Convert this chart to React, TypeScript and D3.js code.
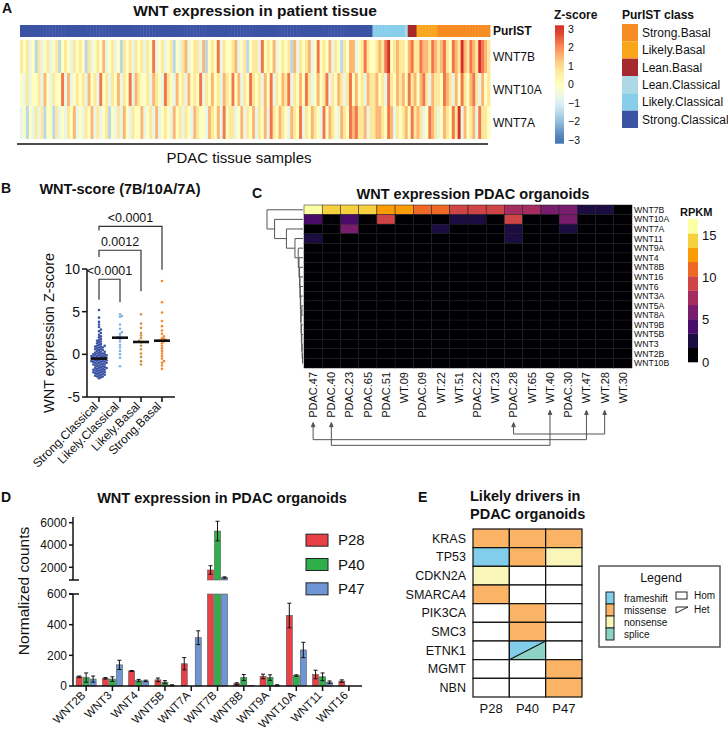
import * as d3 from "d3";

const FONT = "'Liberation Sans', Arial, Helvetica, sans-serif";

// ---------- A: WNT z-scores in patient tissue ----------
const PURIST_CLASSES = ["Strong.Basal", "Likely.Basal", "Lean.Basal", "Lean.Classical", "Likely.Classical", "Strong.Classical"];
const PURIST_COLORS = ["#F68B21", "#F9A61D", "#A5292D", "#ADD8E6", "#87CEEB", "#3A53A4"];
// column order of the heatmap and number of samples per class
const SAMPLE_CLASS_ORDER = ["Strong.Classical", "Likely.Classical", "Lean.Classical", "Lean.Basal", "Likely.Basal", "Strong.Basal"];
const SAMPLE_CLASS_COUNTS = [120, 11, 1, 3, 7, 18];
const TISSUE_GENES = ["WNT7B", "WNT10A", "WNT7A"];
// one digit per sample, z = (digit - 4) * 0.75
const WNT7B_Z =
  "5453425345" + "3452454354" + "5425345463" + "4534254535" + "4535473453" + "4524356345" +
  "5362454735" + "4456345245" + "5374546345" + "4526354563" + "4745463542" + "5466345754" +
  "4565784565" + "54" + "675" + "5766576" + "5675476586" + "57658765";
const WNT10A_Z =
  "4353445364" + "3544736345" + "4536453745" + "3546354736" + "5445365437" + "5436453645" +
  "4735464536" + "5474635475" + "4536473546" + "5735464753" + "4645735465" + "3574645365" +
  "5645375465" + "64" + "756" + "4675365" + "5476536475" + "46753645";
const WNT7A_Z =
  "3424353524" + "4253435463" + "4354635345" + "2435364354" + "4634536345" + "4364535436" +
  "5443654637" + "4553463546" + "3546375465" + "4365473546" + "5437465436" + "5476755635" +
  "5665476354" + "56" + "475" + "6534765" + "3465475836" + "45637554";
const Z_TICKS = [3, 2, 1, 0, -1, -2, -3];
const RDYLBU = ["#4575B4", "#91BFDB", "#E0F3F8", "#FFFFBF", "#FEE090", "#FC8D59", "#D73027"];

// ---------- B: WNT-score per PurIST class ----------
const B_GROUPS = ["Strong.Classical", "Likely.Classical", "Likely.Basal", "Strong.Basal"];
const B_COLORS = ["#3A53A4", "#7FB2E5", "#D8913F", "#F58A2A"];
const SCORE_STRONG_CLASSICAL = [
  5.2, 4.3, 3.8, 3.5, 3.2, 2.9, 2.7, 2.5, 2.3, 2.1, 2.0, 1.8, 1.7, 1.6, 1.5, 1.4, 1.3, 1.2, 1.1, 1.0,
  1.0, 0.9, 0.9, 0.8, 0.8, 0.7, 0.6, 0.6, 0.5, 0.5, 0.4, 0.3, 0.3, 0.2, 0.2, 0.1, 0.1, 0.0, 0.0, 0.0,
  -0.1, -0.1, -0.1, -0.2, -0.2, -0.2, -0.3, -0.3, -0.3, -0.4, -0.4, -0.4, -0.5, -0.5, -0.5,
  -0.6, -0.6, -0.6, -0.7, -0.7, -0.7, -0.8, -0.8, -0.8, -0.9, -0.9, -0.9, -1.0, -1.0, -1.0,
  -1.1, -1.1, -1.2, -1.2, -1.2, -1.3, -1.3, -1.4, -1.4, -1.5, -1.5, -1.6, -1.6, -1.6, -1.7, -1.7,
  -1.8, -1.8, -1.8, -1.9, -1.9, -2.0, -2.0, -2.1, -2.1, -2.1, -2.2, -2.2, -2.3, -2.3, -2.4, -2.4,
  -2.5, -2.5, -2.6, -2.6, -2.7, -2.8,
];
const SCORE_LIKELY_CLASSICAL = [4.7, 4.5, 4.4, 3.5, 3.0, 2.6, 2.4, 2.1, 2.0, 1.9, 1.8, 1.5, 1.1, 0.8, 0.4, 0.0, -0.4, -1.4];
const SCORE_LIKELY_BASAL = [4.7, 3.6, 3.1, 2.5, 2.2, 1.9, 1.6, 1.45, 1.4, 1.0, 0.6, 0.1, -0.3, -0.8, -1.2];
const SCORE_STRONG_BASAL = [8.6, 6.1, 4.9, 3.9, 3.3, 2.8, 2.4, 2.1, 1.9, 1.8, 1.7, 1.65, 1.6, 1.5, 1.3, 1.0, 0.7, 0.4, 0.1, -0.2, -0.5, -0.8, -1.0, -1.3, -1.7];
const B_Y_TICKS = [-5, 0, 5, 10];
// comparisons against Strong.Classical: label, bracket top and leg ends in score units
const B_TESTS = [
  { b: "Likely.Classical", label: "<0.0001", top: 8.8, left: 6.4, right: 6.1 },
  { b: "Likely.Basal", label: "0.0012", top: 12.2, left: 11.4, right: 7.4 },
  { b: "Strong.Basal", label: "<0.0001", top: 15.0, left: 14.5, right: 9.9 },
];

// ---------- C: organoid RPKM heatmap ----------
const C_GENES = ["WNT7B", "WNT10A", "WNT7A", "WNT11", "WNT9A", "WNT4", "WNT8B", "WNT16", "WNT6", "WNT3A", "WNT5A", "WNT8A", "WNT9B", "WNT5B", "WNT3", "WNT2B", "WNT10B"];
const C_SAMPLES = ["PDAC.47", "PDAC.40", "PDAC.23", "PDAC.65", "PDAC.51", "WT.09", "PDAC.09", "WT.22", "WT.51", "PDAC.22", "WT.23", "PDAC.28", "WT.65", "WT.40", "PDAC.30", "WT.47", "WT.28", "WT.30"];
const RPKM_WNT7B = [16.2, 14.4, 14.4, 14.4, 12.6, 12.6, 11.0, 11.0, 9.3, 9.3, 9.3, 7.7, 7.7, 6.4, 6.2, 2.5, 2.5, 0.6];
const RPKM_WNT10A = [4.6, 0, 4.6, 0, 9.5, 0, 0, 0, 2.6, 2.6, 0, 9.5, 0, 0, 6.6, 0, 0, 0];
const RPKM_WNT7A = [0, 0, 6.5, 0, 0, 0, 0, 2.6, 0, 0, 0, 2.6, 0, 0, 2.6, 0, 0, 0];
const RPKM_WNT11 = [2.6, 0, 0, 0, 0, 0, 0, 0, 0, 0, 0, 2.6, 0, 0, 0, 0, 0, 0];
const RPKM_OTHER = C_SAMPLES.map(() => 0);
const RPKM_ROWS = [RPKM_WNT7B, RPKM_WNT10A, RPKM_WNT7A, RPKM_WNT11];
const RPKM_MAX = 17;
const RPKM_TICKS = [15, 10, 5, 0];
// row dendrogram: [merge height, left, right]
const ROW_TREE: any = [38, "WNT7B",
  [30, "WNT10A",
    [17.5, "WNT7A",
      [8.5, "WNT11",
        [5, "WNT9A",
          [4.2, "WNT4",
            [3.6, "WNT8B",
              [3.2, "WNT16",
                [2.8, "WNT6",
                  [2.4, "WNT3A",
                    [2.0, [1.2, "WNT5A", "WNT8A"],
                      [1.7, "WNT9B", [1.3, "WNT5B", [0.9, "WNT3", [0.5, "WNT2B", "WNT10B"]]]]]]]]]]]]]]];
// tumour organoid -> matched wild-type organoid
const MATCHED_PAIRS = [["PDAC.28", "WT.28"], ["PDAC.47", "WT.47"], ["PDAC.40", "WT.40"]];

// ---------- D: normalized counts ----------
const D_GENES = ["WNT2B", "WNT3", "WNT4", "WNT5B", "WNT7A", "WNT7B", "WNT8B", "WNT9A", "WNT10A", "WNT11", "WNT16"];
const ORGANOIDS = ["P28", "P40", "P47"];
const ORG_COLORS = ["#E94045", "#2EAF4A", "#6F96D4"];
const P28_MEAN = [60, 50, 98, 40, 145, 1760, 15, 62, 460, 75, 32];
const P28_SD = [5, 5, 3, 12, 40, 380, 6, 15, 80, 28, 8];
const P40_MEAN = [55, 45, 35, 25, 0, 5250, 55, 55, 68, 60, 0];
const P40_SD = [30, 15, 8, 10, 0, 880, 20, 18, 5, 25, 0];
const P47_MEAN = [45, 138, 33, 5, 315, 1080, 3, 5, 235, 25, 0];
const P47_SD = [20, 30, 5, 3, 45, 60, 0, 3, 50, 8, 0];
const D_LOW_TICKS = [0, 200, 400, 600];
const D_HIGH_TICKS = [2000, 4000, 6000];

// ---------- E: driver mutations ----------
const E_GENES = ["KRAS", "TP53", "CDKN2A", "SMARCA4", "PIK3CA", "SMC3", "ETNK1", "MGMT", "NBN"];
const E_SAMPLES = ["P28", "P40", "P47"];
const MUT_TYPES = ["frameshift", "missense", "nonsense", "splice"];
const MUT_COLORS = ["#82CDEA", "#FBB466", "#FAF6B9", "#8CD3C5"];
// gene, sample, type (a second type marks a heterozygous cell)
const E_CALLS = [
  ["KRAS", "P28", "missense"], ["KRAS", "P40", "missense"], ["KRAS", "P47", "missense"],
  ["TP53", "P28", "frameshift"], ["TP53", "P40", "missense"], ["TP53", "P47", "nonsense"],
  ["CDKN2A", "P28", "nonsense"],
  ["SMARCA4", "P28", "missense"],
  ["PIK3CA", "P40", "missense"],
  ["SMC3", "P40", "missense"],
  ["ETNK1", "P40", "frameshift", "splice"],
  ["MGMT", "P47", "missense"],
  ["NBN", "P47", "missense"],
];

function PanelA() {
  const sampleClass = SAMPLE_CLASS_ORDER.flatMap((c, i) => Array.from({ length: SAMPLE_CLASS_COUNTS[i] }, () => c));
  const n = sampleClass.length;
  const x = d3.scaleBand<number>().domain(d3.range(n)).range([20, 490]);
  const y = d3.scaleBand<string>().domain(TISSUE_GENES).range([40, 139]);
  const w = x.bandwidth();
  const classColor = d3.scaleOrdinal<string, string>().domain(PURIST_CLASSES).range(PURIST_COLORS);
  const zColor = d3.scaleLinear<string>().domain([-3, -2, -1, 0, 1, 2, 3]).range(RDYLBU).clamp(true);
  const zy = d3.scaleLinear().domain([-3, 3]).range([140, 29]);
  const legendY = d3.scaleBand<string>().domain(PURIST_CLASSES).range([24, 128]);
  const rows = [WNT7B_Z, WNT10A_Z, WNT7A_Z];
  const gradStops = d3.range(-3.2, 3.21, 0.4);

  return (
    <g>
      <text x={2} y={13} fontSize={14} fontWeight="bold">A</text>
      <text x={255} y={16} textAnchor="middle" fontSize={15.5} fontWeight="bold">WNT expression in patient tissue</text>
      {sampleClass.map((c, i) => (
        <rect key={"c" + i} x={x(i)} y={25} width={w + 0.4} height={12} fill={classColor(c)} />
      ))}
      {rows.map((s, r) =>
        sampleClass.map((_, i) => (
          <rect key={r + "-" + i} x={x(i)} y={y(TISSUE_GENES[r])} width={w + 0.4} height={y.bandwidth()}
            fill={zColor((+(s[i] ?? "4") - 4) * 0.75)} />
        ))
      )}
      <text x={493} y={35} fontSize={12} fontWeight="bold">PurIST</text>
      {TISSUE_GENES.map((g) => (
        <text key={g} x={493} y={(y(g) ?? 0) + y.bandwidth() / 2} dy="0.35em" fontSize={12}>{g}</text>
      ))}
      <line x1={17} x2={488} y1={144} y2={144} stroke="#111" strokeWidth={1.5} />
      <text x={239} y={163} textAnchor="middle" fontSize={15}>PDAC tissue samples</text>

      {/* z-score colour bar */}
      <defs>
        <linearGradient id="zgrad" x1="0" y1="1" x2="0" y2="0">
          {gradStops.map((v, i) => (
            <stop key={i} offset={(v + 3.2) / 6.4} stopColor={zColor(v)} />
          ))}
        </linearGradient>
      </defs>
      <text x={554} y={19} fontSize={12} fontWeight="bold">Z-score</text>
      <rect x={555} y={zy(3.2)} width={9} height={zy(-3.2) - zy(3.2)} fill="url(#zgrad)" />
      {Z_TICKS.map((t) => (
        <text key={t} x={568} y={zy(t)} dy="0.35em" fontSize={10.5}>{d3.format("d")(t)}</text>
      ))}

      {/* PurIST legend */}
      <text x={622} y={19} fontSize={12} fontWeight="bold">PurIST class</text>
      {PURIST_CLASSES.map((c) => (
        <g key={c}>
          <rect x={622} y={legendY(c)} width={16} height={legendY.bandwidth()} fill={classColor(c)} />
          <text x={642} y={(legendY(c) ?? 0) + legendY.bandwidth() / 2} dy="0.35em" fontSize={12}>{c}</text>
        </g>
      ))}
    </g>
  );
}

// simple beeswarm: offsets along x so that dots overlap only a little
function swarm(values: number[], y: (v: number) => number, gap: number) {
  const placed: { x: number; y: number }[] = [];
  return [...values].sort((a, b) => a - b).map((v) => {
    const py = y(v);
    let dx = 0;
    for (let k = 0; k < 60; k++) {
      const cand = k === 0 ? 0 : (k % 2 ? 1 : -1) * Math.ceil(k / 2) * gap;
      if (placed.every((p) => (p.x - cand) ** 2 + (p.y - py) ** 2 >= gap * gap)) {
        dx = cand;
        break;
      }
    }
    placed.push({ x: dx, y: py });
    return { x: dx, y: py };
  });
}

function PanelB() {
  const y = d3.scaleLinear().domain([-5, 10]).range([397, 269]);
  const x = d3.scalePoint<string>().domain(B_GROUPS).range([99, 162]);
  const data = [SCORE_STRONG_CLASSICAL, SCORE_LIKELY_CLASSICAL, SCORE_LIKELY_BASAL, SCORE_STRONG_BASAL];
  const a = x(B_GROUPS[0]) ?? 0;
  return (
    <g>
      <text x={1} y={193} fontSize={14} fontWeight="bold">B</text>
      <text x={120} y={194} textAnchor="middle" fontSize={14.5} fontWeight="bold">WNT-score (7B/10A/7A)</text>
      <text transform={`translate(54,${333}) rotate(-90)`} textAnchor="middle" fontSize={14.5}>WNT expression Z-score</text>
      <line x1={87} x2={87} y1={y(10)} y2={397} stroke="#111" strokeWidth={1.5} />
      <line x1={87} x2={175} y1={397} y2={397} stroke="#111" strokeWidth={1.5} />
      {B_Y_TICKS.map((t) => (
        <g key={t}>
          <line x1={82} x2={87} y1={y(t)} y2={y(t)} stroke="#111" strokeWidth={1.5} />
          <text x={80} y={y(t)} dy="0.35em" textAnchor="end" fontSize={14}>{t}</text>
        </g>
      ))}
      {B_GROUPS.map((g, gi) => {
        const cx = x(g) ?? 0;
        const pts = swarm(data[gi], y, 1.9);
        const med = d3.median(data[gi]) ?? 0;
        return (
          <g key={g}>
            <line x1={cx} x2={cx} y1={397} y2={402} stroke="#111" strokeWidth={1.5} />
            <text transform={`translate(${cx},${407}) rotate(-45)`} textAnchor="end" fontSize={12}>{g}</text>
            {pts.map((p, i) => (
              <circle key={i} cx={cx + p.x} cy={p.y} r={1.3} fill={B_COLORS[gi]} />
            ))}
            <line x1={cx - 8} x2={cx + 8} y1={y(med)} y2={y(med)} stroke="#111" strokeWidth={2.6} />
          </g>
        );
      })}
      {B_TESTS.map((t) => {
        const b = x(t.b) ?? 0;
        return (
          <g key={t.b} fill="none" stroke="#333" strokeWidth={1.2}>
            <path d={`M${a},${y(t.left)}V${y(t.top)}H${b}V${y(t.right)}`} />
            <text x={(a + b) / 2} y={y(t.top) - 4} textAnchor="middle" fontSize={12.5} fill="#111" stroke="none">{t.label}</text>
          </g>
        );
      })}
    </g>
  );
}

function PanelC() {
  const x = d3.scaleBand<string>().domain(C_SAMPLES).range([304, 632]);
  const y = d3.scaleBand<string>().domain(C_GENES).range([205, 368]);
  const inferno = d3.quantize(d3.interpolateInferno, 10);
  const color = d3.scaleQuantize<string>().domain([0, RPKM_MAX]).range(inferno);
  const legendY = d3.scaleLinear().domain([0, RPKM_MAX]).range([362, 219]);
  const bands = d3.range(10).map((i) => [(i * RPKM_MAX) / 10, ((i + 1) * RPKM_MAX) / 10]);
  const hx = d3.scaleLinear().domain([0, 38]).range([303, 267]);

  const segs: number[][] = [];
  const layout = (t: any): { x: number; y: number } => {
    if (typeof t === "string") return { x: hx(0), y: (y(t) ?? 0) + y.bandwidth() / 2 };
    const [h, l, r] = t;
    const A = layout(l);
    const B = layout(r);
    const nx = hx(h);
    segs.push([nx, A.y, nx, B.y], [nx, A.y, A.x, A.y], [nx, B.y, B.x, B.y]);
    return { x: nx, y: (A.y + B.y) / 2 };
  };
  layout(ROW_TREE);

  const cx = (s: string) => (x(s) ?? 0) + x.bandwidth() / 2;
  const tip = (s: string) => 372 + s.length * 6.1 + 8;
  const pairLevel = d3.scaleBand<number>().domain(d3.range(MATCHED_PAIRS.length)).range([432, 449]);

  return (
    <g>
      <text x={252} y={198} fontSize={14} fontWeight="bold">C</text>
      <text x={473} y={199} textAnchor="middle" fontSize={14.5} fontWeight="bold">WNT expression PDAC organoids</text>
      {C_GENES.map((g, gi) => {
        const vals = RPKM_ROWS[gi] ?? RPKM_OTHER;
        return C_SAMPLES.map((s, si) => (
          <rect key={g + s} x={x(s)} y={y(g)} width={x.bandwidth()} height={y.bandwidth()}
            fill={color(vals[si])} stroke="#1a1a1a" strokeWidth={0.5} />
        ));
      })}
      {C_GENES.map((g) => (
        <text key={g} x={634} y={(y(g) ?? 0) + y.bandwidth() / 2} dy="0.35em" fontSize={8.7}>{g}</text>
      ))}
      {C_SAMPLES.map((s) => (
        <text key={s} transform={`translate(${cx(s)},372) rotate(-90)`} dy="0.35em" textAnchor="end" fontSize={11}>{s}</text>
      ))}
      {segs.map((s, i) => (
        <line key={i} x1={s[0]} y1={s[1]} x2={s[2]} y2={s[3]} stroke="#555" strokeWidth={1} />
      ))}
      {MATCHED_PAIRS.map(([p, w], i) => {
        const ly = (pairLevel(i) ?? 0) + 2;
        return (
          <g key={p} stroke="#555" strokeWidth={1} fill="none">
            <path d={`M${cx(p)},${tip(p)}V${ly}H${cx(w)}V${tip(w)}`} />
            {[p, w].map((s) => (
              <path key={s} d={`M${cx(s) - 1.8},${tip(s) + 4}L${cx(s)},${tip(s)}L${cx(s) + 1.8},${tip(s) + 4}Z`} fill="#555" />
            ))}
          </g>
        );
      })}
      <text x={680} y={216} fontSize={11} fontWeight="bold">RPKM</text>
      {bands.map(([lo, hi], i) => (
        <rect key={i} x={688} y={legendY(hi)} width={10} height={legendY(lo) - legendY(hi) + 0.3} fill={inferno[i]} />
      ))}
      {RPKM_TICKS.map((t) => (
        <text key={t} x={702} y={legendY(t)} dy="0.35em" fontSize={13}>{t}</text>
      ))}
    </g>
  );
}

function PanelD() {
  const x0 = d3.scaleBand<string>().domain(D_GENES).range([73, 362]);
  const x1 = d3.scaleBand<string>().domain(ORGANOIDS).range([-10.5, 10.5]);
  const yLow = d3.scaleLinear().domain([0, 600]).range([686, 594]);
  const yHigh = d3.scaleLinear().domain([2000, 6000]).range([567.3, 522.7]);
  const HIGH_BOTTOM = 580;
  const HIGH_TOP = 517;
  const pos = (v: number) => (v > 600 ? yHigh(v) : yLow(v));
  const means = [P28_MEAN, P40_MEAN, P47_MEAN];
  const sds = [P28_SD, P40_SD, P47_SD];
  const legendY = d3.scaleBand<string>().domain(ORGANOIDS).range([528, 601]);

  return (
    <g>
      <text x={1} y={502} fontSize={14} fontWeight="bold">D</text>
      <text x={222} y={503} textAnchor="middle" fontSize={14.5} fontWeight="bold">WNT expression in PDAC organoids</text>
      <text transform="translate(29,591) rotate(-90)" textAnchor="middle" fontSize={15.5}>Normalized counts</text>
      {D_GENES.map((g, gi) => {
        const c = (x0(g) ?? 0) + x0.bandwidth() / 2;
        return (
          <g key={g}>
            {ORGANOIDS.map((o, oi) => {
              const v = means[oi][gi];
              const sd = sds[oi][gi];
              const bx = c + (x1(o) ?? 0) + 0.5;
              const bw = x1.bandwidth() - 1;
              const ex = bx + bw / 2;
              const bars =
                v > 600
                  ? [
                      [yLow(600), 686],
                      [yHigh(v), HIGH_BOTTOM],
                    ]
                  : [[yLow(v), 686]];
              const lo = v > 600 ? yHigh(v - sd) : yLow(Math.max(0, v - sd));
              const hi = pos(v + sd);
              return (
                <g key={o}>
                  {bars.map(([t, b], k) => (
                    <rect key={k} x={bx} y={t} width={bw} height={Math.max(0, b - t)} fill={ORG_COLORS[oi]} stroke="#555" strokeWidth={0.6} />
                  ))}
                  {sd > 0 && (
                    <path d={`M${ex},${lo}V${hi}M${ex - 2},${hi}H${ex + 2}M${ex - 2},${lo}H${ex + 2}`} stroke="#111" strokeWidth={1} fill="none" />
                  )}
                </g>
              );
            })}
            <line x1={c} x2={c} y1={686} y2={691} stroke="#111" strokeWidth={1.5} />
            <text transform={`translate(${c},${696}) rotate(-45)`} textAnchor="end" fontSize={11.5}>{g}</text>
          </g>
        );
      })}
      {/* broken y axis */}
      <g stroke="#111" strokeWidth={1.5}>
        <line x1={73} x2={73} y1={HIGH_TOP} y2={HIGH_BOTTOM} />
        <line x1={69} x2={79} y1={HIGH_BOTTOM} y2={HIGH_BOTTOM} />
        <line x1={73} x2={73} y1={yLow(600)} y2={686} />
        <line x1={69} x2={79} y1={yLow(600)} y2={yLow(600)} />
        <line x1={73} x2={362} y1={686} y2={686} />
      </g>
      {D_HIGH_TICKS.map((t) => (
        <g key={t}>
          <line x1={69} x2={73} y1={yHigh(t)} y2={yHigh(t)} stroke="#111" strokeWidth={1.5} />
          <text x={67} y={yHigh(t)} dy="0.35em" textAnchor="end" fontSize={12}>{t}</text>
        </g>
      ))}
      {D_LOW_TICKS.map((t) => (
        <g key={t}>
          <line x1={69} x2={73} y1={yLow(t)} y2={yLow(t)} stroke="#111" strokeWidth={1.5} />
          <text x={67} y={yLow(t)} dy="0.35em" textAnchor="end" fontSize={12}>{t}</text>
        </g>
      ))}
      {ORGANOIDS.map((o, i) => {
        const ly = (legendY(o) ?? 0) + legendY.bandwidth() / 2;
        return (
          <g key={o}>
            <rect x={306} y={ly - 6} width={22} height={12} fill={ORG_COLORS[i]} stroke="#222" strokeWidth={1} />
            <text x={338} y={ly} dy="0.35em" fontSize={15}>{o}</text>
          </g>
        );
      })}
    </g>
  );
}

function PanelE() {
  const x = d3.scaleBand<string>().domain(E_SAMPLES).range([473, 582]);
  const y = d3.scaleBand<string>().domain(E_GENES).range([529, 697]);
  const mutColor = d3.scaleOrdinal<string, string>().domain(MUT_TYPES).range(MUT_COLORS);
  const legY = d3.scaleBand<string>().domain(MUT_TYPES).range([592, 640]);
  const call = (g: string, s: string) => E_CALLS.find((c) => c[0] === g && c[1] === s);

  return (
    <g>
      <text x={418} y={502} fontSize={14} fontWeight="bold">E</text>
      <text x={470} y={501} fontSize={14.5} fontWeight="bold">Likely drivers in</text>
      <text x={470} y={519} fontSize={14.5} fontWeight="bold">PDAC organoids</text>
      {E_GENES.map((g) =>
        E_SAMPLES.map((s) => {
          const cx0 = x(s) ?? 0;
          const cy0 = y(g) ?? 0;
          const cw = x.bandwidth();
          const ch = y.bandwidth();
          const c = call(g, s);
          if (c && c.length > 3) {
            return (
              <g key={g + s}>
                <path d={`M${cx0},${cy0}H${cx0 + cw}L${cx0},${cy0 + ch}Z`} fill={mutColor(c[2])} />
                <path d={`M${cx0 + cw},${cy0}V${cy0 + ch}H${cx0}Z`} fill={mutColor(c[3])} />
                <line x1={cx0} y1={cy0 + ch} x2={cx0 + cw} y2={cy0} stroke="#111" strokeWidth={1.2} />
                <rect x={cx0} y={cy0} width={cw} height={ch} fill="none" stroke="#111" strokeWidth={1.2} />
              </g>
            );
          }
          return (
            <rect key={g + s} x={cx0} y={cy0} width={cw} height={ch} fill={c ? mutColor(c[2]) : "#fff"} stroke="#111" strokeWidth={1.2} />
          );
        })
      )}
      {E_GENES.map((g) => (
        <text key={g} x={466} y={(y(g) ?? 0) + y.bandwidth() / 2} dy="0.35em" textAnchor="end" fontSize={12.5}>{g}</text>
      ))}
      {E_SAMPLES.map((s) => (
        <text key={s} x={(x(s) ?? 0) + x.bandwidth() / 2} y={713} textAnchor="middle" fontSize={13}>{s}</text>
      ))}

      <rect x={599} y={566} width={121} height={81} fill="#fff" stroke="#555" strokeWidth={1.5} />
      <text x={661} y={582} textAnchor="middle" fontSize={12.5}>Legend</text>
      {MUT_TYPES.map((m) => (
        <g key={m}>
          <rect x={606} y={legY(m)} width={8} height={legY.bandwidth()} fill={mutColor(m)} stroke="#222" strokeWidth={1} />
          <text x={624} y={(legY(m) ?? 0) + legY.bandwidth() / 2} dy="0.35em" fontSize={10}>{m}</text>
        </g>
      ))}
      <rect x={676} y={592} width={11} height={7} fill="#fff" stroke="#222" strokeWidth={1} />
      <text x={694} y={595} dy="0.35em" fontSize={10}>Hom</text>
      <path d="M676,607H688L676,613Z" fill="#fff" stroke="#222" strokeWidth={1} />
      <text x={694} y={609} dy="0.35em" fontSize={10}>Het</text>
    </g>
  );
}

export default function App() {
  return (
    <svg width={728} height={738} viewBox="0 0 728 738"
      style={{ position: "absolute", left: 0, top: 0, background: "#fff", display: "block" }}
      fontFamily={FONT} fill="#111">
      <PanelA />
      <PanelB />
      <PanelC />
      <PanelD />
      <PanelE />
    </svg>
  );
}
